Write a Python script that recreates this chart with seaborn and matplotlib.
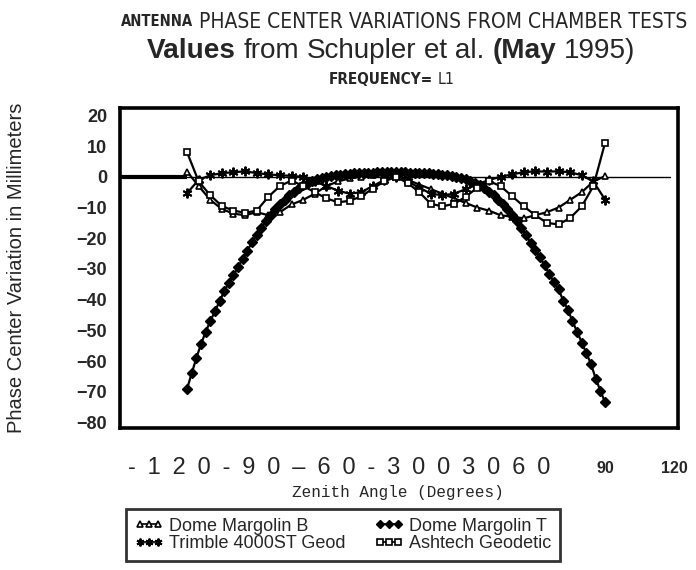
import matplotlib
matplotlib.use("Agg")
import matplotlib.pyplot as plt
import seaborn as sns
import pandas as pd
from matplotlib.lines import Line2D

# Zenith angles (degrees)
angles_2deg = list(range(-90, 91, 2))
angles_5deg = list(range(-90, 91, 5))

# Phase centre variation (mm), L1
dome_margolin_t = [
    -69.0, -64.0, -59.0, -54.5, -50.5, -47.0, -43.8, -40.5, -37.3, -34.5,
    -32.0, -29.3, -26.6, -24.0, -21.3, -18.9, -16.5, -14.3, -12.3, -10.5,
    -8.9, -7.4, -6.0, -4.8, -3.7, -2.8, -2.0, -1.3, -0.8, -0.4,
    0.0, 0.3, 0.5, 0.7, 0.9, 1.0, 1.1, 1.2, 1.3, 1.4,
    1.4, 1.5, 1.5, 1.5, 1.5, 1.5, 1.5, 1.5, 1.4, 1.4,
    1.3, 1.2, 1.1, 1.0, 0.9, 0.7, 0.5, 0.3, 0.0, -0.4,
    -0.8, -1.3, -2.0, -2.8, -3.7, -4.8, -6.0, -7.4, -8.9, -10.5,
    -12.3, -14.3, -16.5, -18.9, -21.6, -23.7, -26.2, -28.8, -31.6, -34.3,
    -36.6, -40.3, -43.2, -47.1, -50.4, -54.0, -57.4, -61.0, -65.7, -69.6,
    -73.4,
]
dome_margolin_b = [
    1.7, -3.0, -7.5, -10.5, -12.0, -12.5, -11.5, -12.5, -11.5, -9.0,
    -7.5, -5.5, -3.0, -1.5, -0.5, 0.0, 0.5, 0.5, 0.5, -1.0,
    -2.5, -4.0, -5.5, -7.0, -8.5, -10.0, -11.0, -12.5, -13.0, -13.5,
    -12.5, -11.5, -10.0, -7.5, -5.0, -1.5, 0.2,
]
trimble_4000st = [
    -5.3, -1.0, 0.5, 1.2, 1.5, 1.8, 1.2, 0.8, 0.5, 0.3,
    0.0, -1.5, -3.0, -4.5, -5.5, -5.0, -3.0, -1.0, 0.0, -1.5,
    -3.5, -5.5, -6.0, -5.5, -4.0, -2.5, -1.0, 0.0, 0.8, 1.5,
    1.8, 1.7, 1.8, 1.5, 0.5, -1.5, -7.4,
]
ashtech_geodetic = [
    8.0, -1.5, -6.0, -9.5, -11.0, -11.7, -11.0, -6.5, -3.0, -1.2,
    -3.0, -5.0, -7.0, -8.3, -7.8, -6.4, -3.8, -1.5, 0.0, -2.0,
    -5.0, -8.8, -9.6, -8.8, -6.5, -3.5, -1.4, -3.0, -6.3, -9.6,
    -12.5, -15.0, -15.5, -13.4, -9.6, -3.0, 11.0,
]

series_names = ["Dome Margolin B", "Dome Margolin T",
                "Trimble 4000ST Geod", "Ashtech Geodetic"]
y_ticks = [20, 10, 0, -10, -20, -30, -40, -50, -60, -70, -80]
y_tick_labels = ["20", "10", "0", "\u221210", "\u221220", "\u221230", "\u221240",
                 "\u221250", "\u221260", "\u221270", "\u221280"]
left_scale_text = "\u2002".join(list("-120-90") + ["\u2013"] + list("60-3003060"))

frames = [
    pd.DataFrame({"angle": angles_5deg, "pcv": dome_margolin_b, "antenna": series_names[0]}),
    pd.DataFrame({"angle": angles_2deg, "pcv": dome_margolin_t, "antenna": series_names[1]}),
    pd.DataFrame({"angle": angles_5deg, "pcv": trimble_4000st, "antenna": series_names[2]}),
    pd.DataFrame({"angle": angles_5deg, "pcv": ashtech_geodetic, "antenna": series_names[3]}),
]

styles = {
    series_names[0]: dict(marker="^", markersize=5, markerfacecolor="white", markeredgewidth=1.2),
    series_names[1]: dict(marker="D", markersize=5, markerfacecolor="black", markeredgewidth=1.0),
    series_names[2]: dict(marker=(6, 2, 0), markersize=7, markerfacecolor="black", markeredgewidth=1.4),
    series_names[3]: dict(marker="s", markersize=5, markerfacecolor="white", markeredgewidth=1.2),
}

sns.set_theme(style="white")
plt.rcParams["font.family"] = ["Liberation Sans", "DejaVu Sans"]

W, H = 696, 570
fig = plt.figure(figsize=(W / 100, H / 100), dpi=100)
ax = fig.add_axes([0.172, 0.249, 0.802, 0.562])

# zero reference line: heavy on the left, thin across the rest
ax.plot([-119, 118], [0, 0], color="black", lw=1.0, zorder=1)
ax.plot([-125, -90], [0, 0], color="black", lw=3.0, zorder=1, solid_capstyle="butt")

for df in frames:
    name = df["antenna"].iloc[0]
    sns.lineplot(data=df, x="angle", y="pcv", ax=ax, color="black",
                 lw=1.6, markeredgecolor="black", legend=False,
                 zorder=3, **styles[name])

ax.set_xlim(-119, 121.4)
ax.set_ylim(-81.8, 22.5)
ax.set_yticks(y_ticks)
ax.set_yticklabels(y_tick_labels, fontsize=13, fontweight="bold")
ax.set_xticks([90, 120])
ax.set_xticklabels(["90", "120"], fontsize=11.5, fontweight="bold")
ax.tick_params(axis="y", length=0, pad=9)
ax.tick_params(axis="x", length=0, pad=24)
for side in ["left", "right", "top", "bottom"]:
    ax.spines[side].set_visible(True)
    ax.spines[side].set_color("black")
    ax.spines[side].set_linewidth(2.6)
ax.set_xlabel("")
ax.set_ylabel("Phase Center Variation in Millimeters", fontsize=14.5)
ax.yaxis.set_label_coords(-0.168, 0.5)
ax.grid(False)

# spaced-out left half of the angle scale
fig.text(128 / W, 1 - 468 / H, left_scale_text,
         fontsize=17, ha="left", va="center")
fig.text(398 / W, 1 - 492 / H, "Zenith Angle (Degrees)",
         family="Liberation Mono", fontsize=11.5, ha="center", va="center")

renderer = fig.canvas.get_renderer()


def text_run(pieces, x_left, x_right, y):
    """Lay out a run of differently styled words, fitted to [x_left, x_right]."""
    items = [fig.text(0, 1 - y / H, s, ha="left", va="center", **kw) for s, kw in pieces]

    def widths():
        return [t.get_window_extent(renderer).width for t in items]

    ws = widths()
    gap = 0.28 * items[-1].get_fontsize() * 100 / 72
    total = sum(ws) + gap * (len(items) - 1)
    k = (x_right - x_left) / total
    for t in items:
        t.set_fontsize(t.get_fontsize() * k)
    ws = widths()
    gap *= k
    x = x_left
    for t, w in zip(items, ws):
        t.set_x(x / W)
        x += w + gap
    return items


narrow = dict(family=["DejaVu Sans"], fontstretch="condensed")
text_run([("ANTENNA", dict(fontsize=12, fontweight="bold", **narrow)),
          ("PHASE CENTER VARIATIONS FROM CHAMBER TESTS", dict(fontsize=17, **narrow))],
         121, 688, 22)
text_run([("Values", dict(fontsize=16, fontweight="bold")),
          ("from", dict(fontsize=16)),
          ("Schupler", dict(fontsize=16)),
          ("et al.", dict(fontsize=16)),
          ("(May", dict(fontsize=16, fontweight="bold")),
          ("1995)", dict(fontsize=16))],
         147, 635, 51)
text_run([("FREQUENCY=", dict(fontsize=12, fontweight="bold", **narrow)),
          ("L1", dict(fontsize=12.5, **narrow))],
         329, 455, 80)

# legend, filled row by row
order = [0, 2, 1, 3]
handles = []
for name in series_names:
    st = dict(styles[name])
    st["markersize"] = st["markersize"] * 0.8
    handles.append(Line2D([], [], color="black", lw=1.2, markeredgecolor="black", **st))
leg = fig.legend([handles[i] for i in order], [series_names[i] for i in order],
                 loc="center", ncol=2, numpoints=3,
                 bbox_to_anchor=(343 / W, 1 - 535 / H), frameon=True,
                 fontsize=13, handlelength=1.6, handletextpad=0.3,
                 columnspacing=1.6, labelspacing=0.05, borderpad=0.5)
leg.get_frame().set_edgecolor("black")
leg.get_frame().set_linewidth(2.0)
leg.get_frame().set_boxstyle("square", pad=0)

fig.savefig("out.png", dpi=100)
